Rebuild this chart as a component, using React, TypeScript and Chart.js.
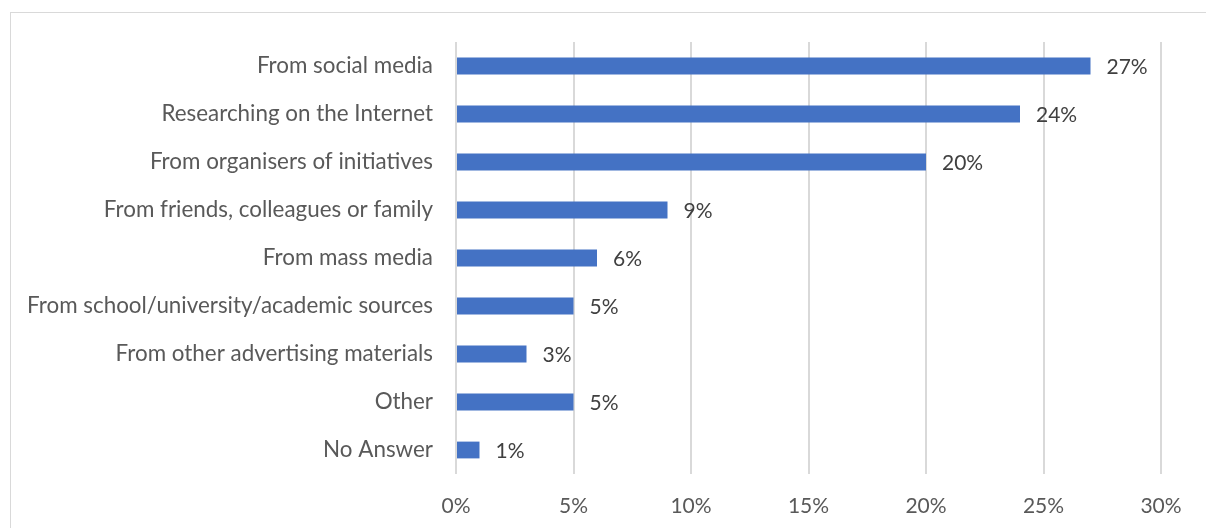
import { useEffect, useRef } from "react";
import { Chart, registerables } from "chart.js";

Chart.register(...registerables);

// Where respondents heard about the initiatives (share of answers, %)
const categories = [
  "From social media",
  "Researching on the Internet",
  "From organisers of initiatives",
  "From friends, colleagues or family",
  "From mass media",
  "From school/university/academic sources",
  "From other advertising materials",
  "Other",
  "No Answer",
];
const shares = [27, 24, 20, 9, 6, 5, 3, 5, 1];
const axisMin = 0;
const axisMax = 30;
const axisStep = 5;

const FONT = "Lato";
const BAR_COLOR = "#4472C4";
const AXIS_TEXT = "#595959";
const VALUE_TEXT = "#404040";
const GRID = "#d9d9d9";

const valueLabels = {
  id: "valueLabels",
  afterDatasetsDraw(chart: any) {
    const { ctx } = chart;
    const meta = chart.getDatasetMeta(0);
    ctx.save();
    ctx.font = `21px ${FONT}`;
    ctx.fillStyle = VALUE_TEXT;
    ctx.textAlign = "left";
    ctx.textBaseline = "middle";
    meta.data.forEach((bar: any, i: number) => {
      const { x, y } = bar.getProps(["x", "y"], true);
      ctx.fillText(`${shares[i]}%`, x + 16, y + 1);
    });
    ctx.restore();
  },
};

export default function App() {
  const canvasRef = useRef<HTMLCanvasElement | null>(null);

  useEffect(() => {
    if (!canvasRef.current) return;
    const chart = new Chart(canvasRef.current, {
      type: "bar",
      data: {
        labels: categories,
        datasets: [
          {
            data: shares,
            backgroundColor: BAR_COLOR,
            borderWidth: 0,
            categoryPercentage: 1,
            barPercentage: 0.35,
          },
        ],
      },
      options: {
        indexAxis: "y",
        responsive: false,
        animation: false,
        layout: { padding: { top: 42, right: 45, left: 0, bottom: 0 } },
        plugins: {
          legend: { display: false },
          tooltip: { enabled: false },
        },
        scales: {
          x: {
            min: axisMin,
            max: axisMax,
            grid: { color: GRID, lineWidth: 2, drawTicks: false },
            border: { display: false },
            ticks: {
              stepSize: axisStep,
              padding: 20,
              color: AXIS_TEXT,
              font: { family: FONT, size: 21 },
              callback: (v: any) => `${v}%`,
            },
            afterFit: (scale: any) => {
              scale.height = 54;
            },
          },
          y: {
            grid: { display: false },
            border: { display: false },
            ticks: {
              padding: 15,
              color: AXIS_TEXT,
              font: { family: FONT, size: 22.4 },
            },
            afterFit: (scale: any) => {
              scale.width = 456;
            },
          },
        },
      },
      plugins: [valueLabels],
    });
    return () => chart.destroy();
  }, []);

  return (
    <div
      style={{
        position: "fixed",
        left: 0,
        top: 0,
        width: 1206,
        height: 528,
        background: "#ffffff",
        overflow: "hidden",
      }}
    >
      <div
        style={{
          position: "absolute",
          left: 10,
          top: 12,
          width: 1220,
          height: 540,
          border: `1px solid ${GRID}`,
        }}
      />
      <canvas
        ref={canvasRef}
        width={1206}
        height={528}
        style={{ position: "absolute", left: 0, top: 0 }}
      />
    </div>
  );
}
